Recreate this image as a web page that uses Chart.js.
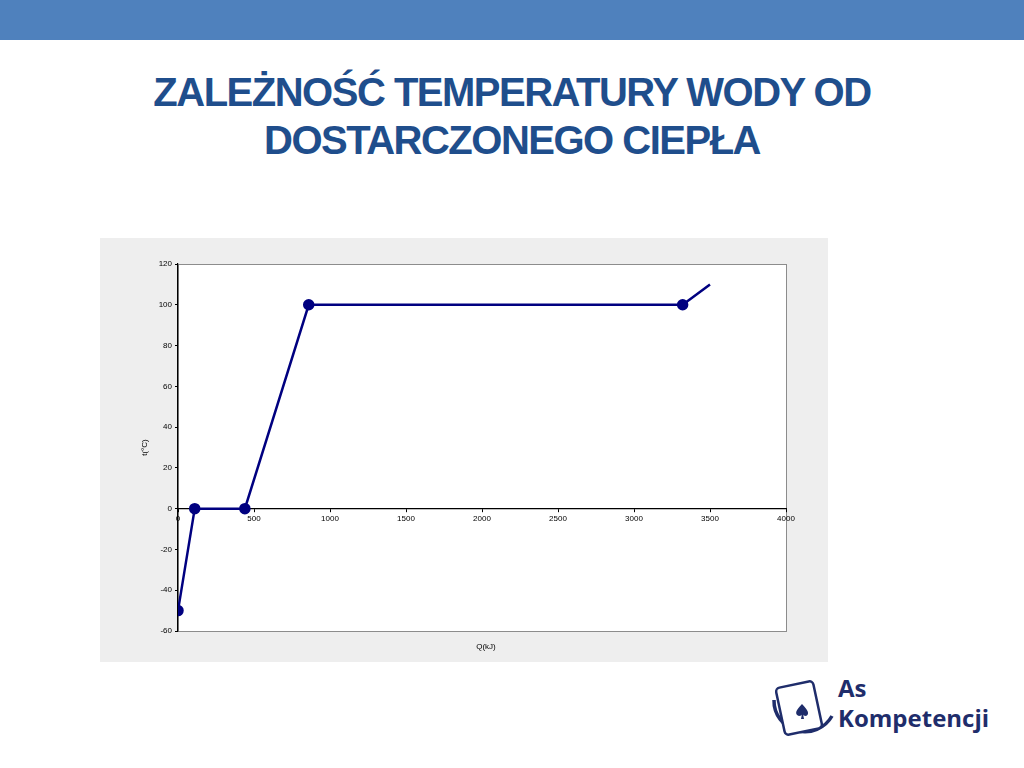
<!DOCTYPE html>
<html>
<head>
<meta charset="utf-8">
<script src="https://cdn.jsdelivr.net/npm/chart.js@4"></script>
<style>
  body { margin: 0; width: 1024px; height: 768px; background: #fff; position: relative; overflow: hidden; font-family: "Liberation Sans", Arial, sans-serif; }
  #topbar { position: absolute; left: 0; top: 0; width: 1024px; height: 40px; background: #4f81bd; }
  #title { position: absolute; left: 0; top: 68px; width: 1024px; text-align: center; color: #1f4e8c; font-weight: bold; font-size: 40px; line-height: 48px; letter-spacing: -1.5px; }
  #chartBox { position: absolute; left: 100px; top: 238px; width: 728px; height: 424px; background: #eeeeee; }
  #logo { position: absolute; left: 768px; top: 672px; width: 240px; height: 80px; }
  #logo .txt { position: absolute; left: 70px; top: 1px; color: #1f2d6b; font-family: "Open Sans", sans-serif; font-weight: bold; font-size: 24px; line-height: 30px; }
</style>
</head>
<body>
<div id="topbar"></div>
<div id="title">ZALEŻNOŚĆ TEMPERATURY WODY OD<br>DOSTARCZONEGO CIEPŁA</div>
<div id="chartBox"><canvas id="waterChart" width="728" height="424"></canvas></div>
<div id="logo">
  <svg width="70" height="80" viewBox="0 0 70 80">
    <path d="M6 28 A 31 31 0 0 0 64 44" fill="none" stroke="#1f2d6b" stroke-width="3.5"/>
    <rect x="12" y="12" width="38" height="48" rx="4" transform="rotate(-12 31 36)" fill="#fff" stroke="#1f2d6b" stroke-width="2.5"/>
    <path d="M34 32 C 28 38, 26 42, 31 44 C 33 44, 34 43, 34 42 L 33 47 L 36 47 L 35 42 C 35 43, 36 44, 38 44 C 42 42, 40 38, 34 32 Z" fill="#1f2d6b"/>
  </svg>
  <div class="txt">As<br>Kompetencji</div>
</div>
<script>
// Q (kJ) and t (°C)
const heatQ = [0, 110, 440, 860, 3320, 3500];
const tempT = [-50, 0, 0, 100, 100, 110];
const markerSizes = [4.5, 4.5, 4.5, 4.5, 4.5, 0];

const xTitle = 'Q(kJ)';
const yTitle = 't(°C)';

const points = heatQ.map((q, i) => ({ x: q, y: tempT[i] }));

// white plot area with grey frame, plus the x title at the bottom
const plotFrame = {
    id: 'plotFrame',
    beforeDraw(chart) {
        const { ctx, chartArea: a } = chart;
        ctx.save();
        ctx.fillStyle = '#ffffff';
        ctx.fillRect(a.left, a.top, a.right - a.left, a.bottom - a.top);
        ctx.strokeStyle = '#8c8c8c';
        ctx.lineWidth = 1;
        ctx.strokeRect(a.left + 0.5, a.top + 0.5, a.right - a.left, a.bottom - a.top);
        ctx.restore();
    },
    afterDraw(chart) {
        const { ctx, chartArea: a } = chart;
        ctx.save();
        ctx.fillStyle = '#000';
        ctx.font = '8px "Liberation Sans", Arial, sans-serif';
        ctx.textAlign = 'center';
        ctx.textBaseline = 'middle';
        ctx.fillText(xTitle, (a.left + a.right) / 2 + 4, 409);
        ctx.restore();
    }
};

new Chart(document.getElementById('waterChart'), {
    type: 'line',
    data: {
        datasets: [{
            data: points,
            borderColor: '#000080',
            backgroundColor: '#000080',
            borderWidth: 2.5,
            pointRadius: markerSizes,
            pointBackgroundColor: '#000080',
            pointBorderColor: '#000080',
            tension: 0
        }]
    },
    options: {
        responsive: false,
        animation: false,
        layout: { padding: { top: 26, right: 42, bottom: 31, left: 0 } },
        plugins: { legend: { display: false }, tooltip: { enabled: false } },
        scales: {
            x: {
                type: 'linear',
                position: { y: 0 },
                min: 0, max: 4000,
                ticks: { stepSize: 500, color: '#000', font: { size: 8 }, padding: 2, maxRotation: 0,
                         callback: v => String(v) },
                grid: { drawOnChartArea: false, color: '#000', tickLength: 3 },
                border: { color: '#000', width: 1.2 }
            },
            y: {
                min: -60, max: 120,
                ticks: { stepSize: 20, color: '#000', font: { size: 8 }, padding: 3,
                         callback: v => String(v) },
                grid: { drawOnChartArea: false, color: '#000', tickLength: 3 },
                border: { color: '#000', width: 1.2 },
                title: { display: true, text: yTitle, color: '#000', font: { size: 8 }, padding: { top: 40, bottom: 0 } },
                afterFit(scale) { scale.width = 78; }
            }
        }
    },
    plugins: [plotFrame]
});
</script>
</body>
</html>
